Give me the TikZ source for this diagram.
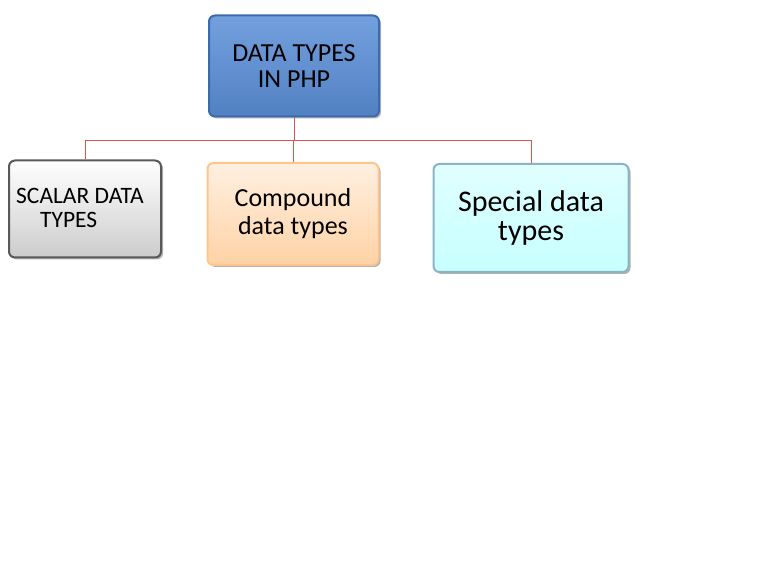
\documentclass[tikz,border=0pt]{standalone}
\usepackage{fontspec}
\setmainfont{Carlito}
\usetikzlibrary{shadows}
\definecolor{topfill}{HTML}{5B8FD8}
\definecolor{topdraw}{HTML}{3B6AAE}
\definecolor{linkred}{HTML}{D9534F}
\tikzset{
  box/.style={rounded corners=6pt, line width=2pt, align=center, inner sep=0pt,
    drop shadow={shadow xshift=2pt, shadow yshift=-2pt, opacity=0.6}},
  link/.style={draw=linkred, line width=0.9pt}
}
\begin{document}
\begin{tikzpicture}[x=1pt,y=-1pt]
\useasboundingbox (0,0) rectangle (768,577);
\node[box, draw=topdraw, top color=topfill!85!white, bottom color=topfill!90!black,
  minimum width=170pt, minimum height=101pt, font=\fontsize{26}{26}\selectfont]
  (top) at (294,66) {DATA TYPES\\IN PHP};
\node[box, draw=gray!70!black, top color=white, bottom color=gray!40,
  minimum width=152pt, minimum height=97pt]
  (scalar) at (85,209) {};
\node[align=left, font=\fontsize{23.5}{24}\selectfont, inner sep=0pt, anchor=west]
  (scalartxt) at (16,208) {SCALAR DATA\\\hspace{24pt}TYPES};
\node[box, draw=orange!45!white, top color=orange!12!white, bottom color=orange!35!white,
  minimum width=171pt, minimum height=102pt, font=\fontsize{26}{28}\selectfont]
  (compound) at (293,214) {Compound\\data types};
\node[box, draw=cyan!40!gray!80, top color=cyan!12!white, bottom color=cyan!22!white,
  minimum width=195pt, minimum height=108pt, font=\fontsize{30}{29}\selectfont]
  (special) at (531,218) {Special data\\types};
\coordinate (bus) at (0,140);
\draw[link] (top.south) -- (top.south |- bus);
\draw[link] (scalar.north |- bus) -- (special.north |- bus);
\draw[link] (scalar.north |- bus) -- (scalar.north);
\draw[link] (compound.north |- bus) -- (compound.north);
\draw[link] (special.north |- bus) -- (special.north);
\end{tikzpicture}
\end{document}
